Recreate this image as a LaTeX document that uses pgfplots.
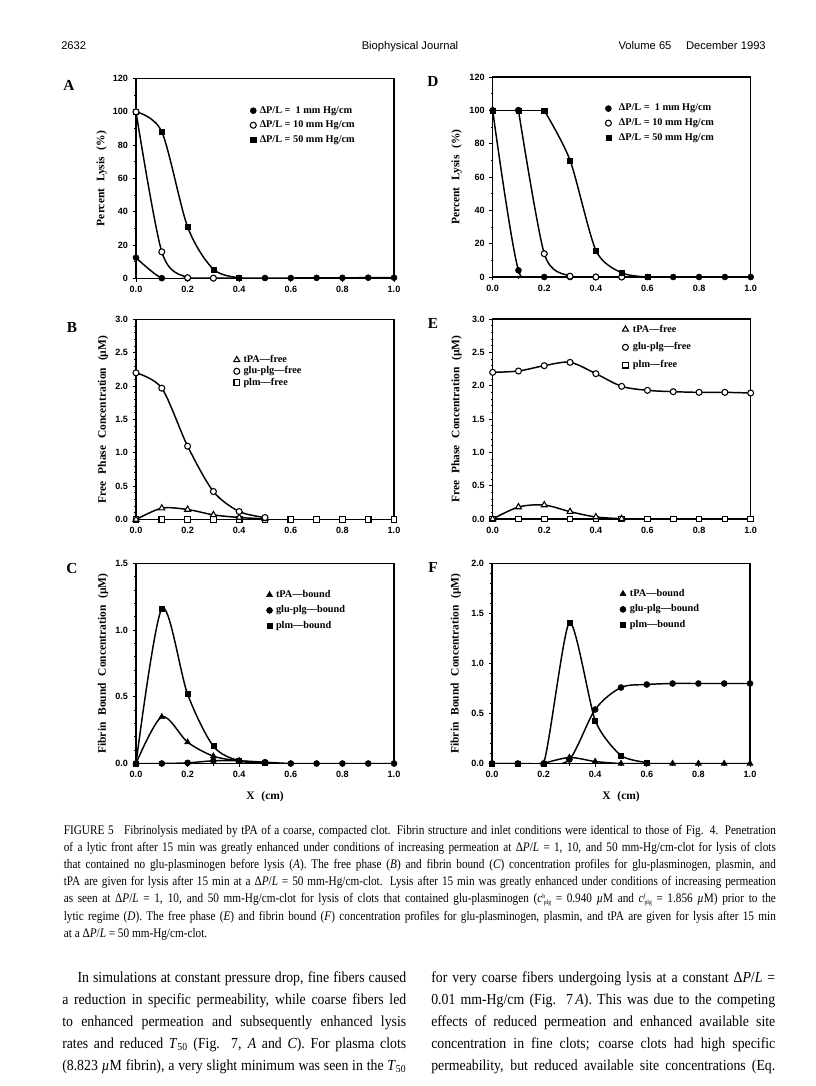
\documentclass[border=0pt]{standalone}
\usepackage{fontspec}
\setmainfont{Liberation Serif}
\setsansfont{Liberation Sans}
\newfontfamily\capfont[FakeStretch=0.86]{Liberation Serif}
\newfontfamily\bodyfont[FakeStretch=0.9]{Liberation Serif}
\usepackage{pgfplots}
\pgfplotsset{compat=1.18}
\newcommand\ws{\hspace{0.6em}}
\newcommand\cplg[1]{\textit{c}\raisebox{3.4pt}{\fontsize{5}{5}\selectfont #1}\hspace{-1pt}\raisebox{-1.4pt}{\fontsize{5}{5}\selectfont plg}}
\pgfplotsset{
  mlegend/.style={legend image code/.code={\draw[##1] plot coordinates {(0pt,0pt)};}},
  fc/.style={mark=*, mark size=2.25pt, mark options={fill=black, draw=black, solid, line width=0.4pt}},
  oc/.style={mark=*, mark size=2.25pt, mark options={fill=white, draw=black, solid, line width=0.8pt}},
  fs/.style={mark=square*, mark size=1.9pt, mark options={fill=black, draw=black, solid, line width=0.4pt}},
  os/.style={mark=square*, mark size=2.1pt, mark options={fill=white, draw=black, solid, line width=0.8pt}},
  ft/.style={mark=triangle*, mark size=2.6pt, mark options={fill=black, draw=black, solid, line width=0.4pt}},
  ot/.style={mark=triangle*, mark size=2.6pt, mark options={fill=white, draw=black, solid, line width=0.8pt}},
  panel/.style={
    scale only axis, width=193.5pt, height=150pt, anchor=south west,
    xmin=0, xmax=1, ymin=0,
    xtick={0,0.2,0.4,0.6,0.8,1.0}, minor x tick num=1,
    tick pos=left, tick align=outside,
    major tick length=2.5pt, minor tick length=1.5pt,
    every tick/.style={black, line width=0.6pt},
    axis line style={line width=1pt},
    tick label style={font=\sffamily\bfseries\fontsize{6.8}{7}\selectfont},
    /pgf/number format/assume math mode=true,
    xticklabel style={/pgf/number format/.cd, fixed, fixed zerofill, precision=1},
    every axis y label/.style={rotate=90, anchor=center},
    every axis x label/.style={at={(axis description cs:0.5,-0.168)}, anchor=center},
    label style={font=\rmfamily\bfseries\fontsize{8.6}{9}\selectfont},
    legend style={draw=none, fill=none, inner sep=0pt, outer sep=0pt,
      font=\rmfamily\bfseries\fontsize{7.7}{8}\selectfont, anchor=north west,
      nodes={inner sep=0.6pt}},
    legend cell align=left,
    every axis plot/.append style={black, line width=1.1pt, smooth, tension=0.5},
  },
  decy/.style={yticklabel style={/pgf/number format/.cd, fixed, fixed zerofill, precision=1}},
}
\begin{document}
\begin{tikzpicture}
\path[use as bounding box, fill=white] (0,0) rectangle (612pt,-814.5pt);

% ---------- A ----------
\begin{axis}[panel, at={(102pt,-208.875pt)}, ymax=120, ytick={0,20,...,120}, minor y tick num=1,
  ylabel={Percent\ws Lysis\ws (\%)}, ylabel style={at={(axis description cs:-0.133,0.5)}},
  legend style={at={(0.443,0.865)}, row sep=3.1pt, /tikz/every odd column/.append style={column sep=2pt}}]
\addplot[fs, forget plot] coordinates {(0,100)(0.1,88)(0.2,31)(0.3,5.5)(0.4,0.5)};
\addplot[fc, forget plot] coordinates {(0,12.5)(0.1,0.2)(0.2,0.2)(0.3,0.2)(0.4,0.3)(0.5,0.3)(0.6,0.3)(0.7,0.4)(0.8,0.4)(0.9,0.5)(1.0,0.5)};
\addplot[oc, forget plot] coordinates {(0,100)(0.1,16)(0.2,0.5)(0.3,0.2)};
\addlegendimage{only marks, fc, mlegend}\addlegendentry{ΔP/L =\ \ 1 mm Hg/cm}
\addlegendimage{only marks, oc, mlegend}\addlegendentry{ΔP/L = 10 mm Hg/cm}
\addlegendimage{only marks, fs, mlegend}\addlegendentry{ΔP/L = 50 mm Hg/cm}
\end{axis}

% ---------- D ----------
\begin{axis}[panel, at={(369.5pt,-207.75pt)}, ymax=120, ytick={0,20,...,120}, minor y tick num=1,
  ylabel={Percent\ws Lysis\ws (\%)}, ylabel style={at={(axis description cs:-0.14,0.5)}},
  legend style={at={(0.437,0.868)}, row sep=3.1pt, /tikz/every odd column/.append style={column sep=5pt}}]
\addplot[fc, forget plot] coordinates {(0,100)(0.1,4)(0.2,0)(0.3,0)(0.4,0)(0.5,0)(0.6,0)(0.7,0)(0.8,0)(0.9,0)(1.0,0)};
\addplot[oc, forget plot, tension=0.45] coordinates {(0.1,100)(0.2,14)(0.3,0.5)(0.4,0)(0.5,0)};
\addplot[fs, forget plot, sharp plot] coordinates {(0,100)(0.1,100)(0.2,100)};
\addplot[fs, forget plot, tension=0.45] coordinates {(0.2,100)(0.3,70)(0.4,16)(0.5,2.5)(0.6,0)};
\addlegendimage{only marks, fc, mlegend}\addlegendentry{ΔP/L =\ \ 1 mm Hg/cm}
\addlegendimage{only marks, oc, mlegend}\addlegendentry{ΔP/L = 10 mm Hg/cm}
\addlegendimage{only marks, fs, mlegend}\addlegendentry{ΔP/L = 50 mm Hg/cm}
\end{axis}

% ---------- B ----------
\begin{axis}[panel, decy, at={(102pt,-389.625pt)}, ymax=3, ytick={0,0.5,...,3.0}, minor y tick num=4,
  ylabel={Free\ws Phase\ws Concentration\ws (µM)}, ylabel style={at={(axis description cs:-0.127,0.5)}},
  legend style={at={(0.379,0.825)}, row sep=0.4pt, /tikz/every odd column/.append style={column sep=2.2pt}}]
\addplot[os, forget plot] coordinates {(0,0)(0.1,0)(0.2,0)(0.3,0)(0.4,0)(0.5,0)(0.6,0)(0.7,0)(0.8,0)(0.9,0)(1.0,0)};
\addplot[ot, forget plot] coordinates {(0,0)(0.1,0.17)(0.2,0.15)(0.3,0.07)(0.4,0.03)(0.5,0.01)};
\addplot[oc, forget plot] coordinates {(0,2.2)(0.1,1.97)(0.2,1.1)(0.3,0.42)(0.4,0.12)(0.5,0.03)};
\addlegendimage{only marks, ot, mlegend}\addlegendentry{tPA—free}
\addlegendimage{only marks, oc, mlegend}\addlegendentry{glu-plg—free}
\addlegendimage{only marks, os, mlegend}\addlegendentry{plm—free}
\end{axis}

% ---------- E ----------
\begin{axis}[panel, decy, at={(369.5pt,-389.25pt)}, ymax=3, ytick={0,0.5,...,3.0}, minor y tick num=4,
  ylabel={Free\ws Phase\ws Concentration\ws (µM)}, ylabel style={at={(axis description cs:-0.14,0.5)}},
  legend style={at={(0.503,0.975)}, row sep=5.3pt, /tikz/every odd column/.append style={column sep=2.8pt}}]
\addplot[os, forget plot] coordinates {(0,0)(0.1,0)(0.2,0)(0.3,0)(0.4,0)(0.5,0)(0.6,0)(0.7,0)(0.8,0)(0.9,0)(1.0,0)};
\addplot[ot, forget plot] coordinates {(0,0)(0.1,0.18)(0.2,0.21)(0.3,0.11)(0.4,0.03)(0.5,0.005)};
\addplot[oc, forget plot] coordinates {(0,2.2)(0.1,2.22)(0.2,2.3)(0.3,2.35)(0.4,2.18)(0.5,1.99)(0.6,1.93)(0.7,1.91)(0.8,1.9)(0.9,1.9)(1.0,1.89)};
\addlegendimage{only marks, ot, mlegend}\addlegendentry{tPA—free}
\addlegendimage{only marks, oc, mlegend}\addlegendentry{glu-plg—free}
\addlegendimage{only marks, os, mlegend}\addlegendentry{plm—free}
\end{axis}

% ---------- C ----------
\begin{axis}[panel, decy, at={(102pt,-572.625pt)}, ymax=1.5, ytick={0,0.5,1.0,1.5}, minor y tick num=4,
  ylabel={Fibrin\ws Bound\ws Concentration\ws (µM)}, ylabel style={at={(axis description cs:-0.127,0.5)}},
  xlabel={X\ws (cm)},
  legend style={at={(0.506,0.87)}, row sep=3.6pt, /tikz/every odd column/.append style={column sep=2pt}}]
\addplot[ft, forget plot] coordinates {(0,0)(0.1,0.35)(0.2,0.16)(0.3,0.055)(0.4,0.02)(0.5,0.005)};
\addplot[fs, forget plot] coordinates {(0,0)(0.1,1.16)(0.2,0.52)(0.3,0.13)(0.4,0.02)(0.5,0.005)};
\addplot[fc, forget plot] coordinates {(0,0)(0.1,0)(0.2,0.005)(0.3,0.02)(0.4,0.02)(0.5,0.01)(0.6,0)(0.7,0)(0.8,0)(0.9,0)(1.0,0)};
\addlegendimage{only marks, ft, mlegend}\addlegendentry{tPA—bound}
\addlegendimage{only marks, fc, mlegend}\addlegendentry{glu-plg—bound}
\addlegendimage{only marks, fs, mlegend}\addlegendentry{plm—bound}
\end{axis}

% ---------- F ----------
\begin{axis}[panel, decy, at={(369pt,-572.625pt)}, ymax=2, ytick={0,0.5,1.0,1.5,2.0}, minor y tick num=4,
  ylabel={Fibrin\ws Bound\ws Concentration\ws (µM)}, ylabel style={at={(axis description cs:-0.14,0.5)}},
  xlabel={X\ws (cm)},
  legend style={at={(0.496,0.875)}, row sep=3.6pt, /tikz/every odd column/.append style={column sep=2.4pt}}]
\addplot[fc, forget plot] coordinates {(0,0)(0.1,0)(0.2,0)(0.3,0.04)(0.4,0.54)(0.5,0.76)(0.6,0.79)(0.7,0.8)(0.8,0.8)(0.9,0.8)(1.0,0.8)};
\addplot[ft, forget plot] coordinates {(0.2,0)(0.3,0.06)(0.4,0.02)(0.5,0)(0.6,0)(0.7,0)(0.8,0)(0.9,0)(1.0,0)};
\addplot[fs, forget plot, tension=0.4] coordinates {(0,0)(0.1,0)(0.2,0)(0.3,1.41)(0.4,0.43)(0.5,0.08)(0.6,0.01)};
\addlegendimage{only marks, ft, mlegend}\addlegendentry{tPA—bound}
\addlegendimage{only marks, fc, mlegend}\addlegendentry{glu-plg—bound}
\addlegendimage{only marks, fs, mlegend}\addlegendentry{plm—bound}
\end{axis}

\begin{scope}[x=0.75pt, y=-0.75pt]
% header
\node[anchor=base west, inner sep=0pt, font=\sffamily\fontsize{8.4}{10}\selectfont] at (61,49) {2632};
\node[anchor=base, inner sep=0pt, font=\sffamily\fontsize{8.4}{10}\selectfont] at (410,49) {Biophysical Journal};
\node[anchor=base east, inner sep=0pt, font=\sffamily\fontsize{8.4}{10}\selectfont] at (766,49) {Volume 65\hspace{1.3em}December 1993};
% panel letters
\foreach \l/\x/\y in {A/69/85, D/433/81, B/72/327, E/433/323, C/72/568, F/433/567}
  \node[font=\rmfamily\bfseries\fontsize{11.5}{13}\selectfont, inner sep=0pt] at (\x,\y) {\l};
% caption
\node[anchor=base west, inner sep=0pt] at (63.6,834) {\capfont\fontsize{9.8}{12.9}\selectfont
\vtop{\hsize=534pt
\hbox to \hsize{FIGURE 5\hspace{0.8em}Fibrinolysis mediated by tPA of a coarse, compacted clot. Fibrin structure and inlet conditions were identical to those of Fig. 4. Penetration}
\hbox to \hsize{of a lytic front after 15 min was greatly enhanced under conditions of increasing permeation at Δ\textit{P}/\textit{L} = 1, 10, and 50 mm-Hg/cm-clot for lysis of clots}
\hbox to \hsize{that contained no glu-plasminogen before lysis (\textit{A}). The free phase (\textit{B}) and fibrin bound (\textit{C}) concentration profiles for glu-plasminogen, plasmin, and}
\hbox to \hsize{tPA are given for lysis after 15 min at a Δ\textit{P}/\textit{L} = 50 mm-Hg/cm-clot. Lysis after 15 min was greatly enhanced under conditions of increasing permeation}
\hbox to \hsize{as seen at Δ\textit{P}/\textit{L} = 1, 10, and 50 mm-Hg/cm-clot for lysis of clots that contained glu-plasminogen (\cplg{b}\ = 0.940 \textit{µ}M and \cplg{\textit{f}}\ = 1.856 \textit{µ}M) prior to the}
\hbox to \hsize{lytic regime (\textit{D}). The free phase (\textit{E}) and fibrin bound (\textit{F}) concentration profiles for glu-plasminogen, plasmin, and tPA are given for lysis after 15 min}
\hbox{at a Δ\textit{P}/\textit{L} = 50 mm-Hg/cm-clot.}
}};
% body text left
\node[anchor=base west, inner sep=0pt] at (62,982) {\bodyfont\fontsize{11.5}{16.6}\selectfont
\vtop{\hsize=258pt
\hbox to \hsize{\hskip 1em In simulations at constant pressure drop, fine fibers caused}
\hbox to \hsize{a reduction in specific permeability, while coarse fibers led}
\hbox to \hsize{to enhanced permeation and subsequently enhanced lysis}
\hbox to \hsize{rates and reduced \textit{T}\textsubscript{50} (Fig. 7, \textit{A} and \textit{C}). For plasma clots}
\hbox to \hsize{(8.823 \textit{µ}M fibrin), a very slight minimum was seen in the \textit{T}\textsubscript{50}}
}};
% body text right
\node[anchor=base west, inner sep=0pt] at (431,982) {\bodyfont\fontsize{11.5}{16.6}\selectfont
\vtop{\hsize=258pt
\hbox to \hsize{for very coarse fibers undergoing lysis at a constant Δ\textit{P}/\textit{L} =}
\hbox to \hsize{0.01 mm-Hg/cm (Fig. 7\,\textit{A}). This was due to the competing}
\hbox to \hsize{effects of reduced permeation and enhanced available site}
\hbox to \hsize{concentration in fine clots; coarse clots had high specific}
\hbox to \hsize{permeability, but reduced available site concentrations (Eq.}
}};
\end{scope}
\end{tikzpicture}
\end{document}
